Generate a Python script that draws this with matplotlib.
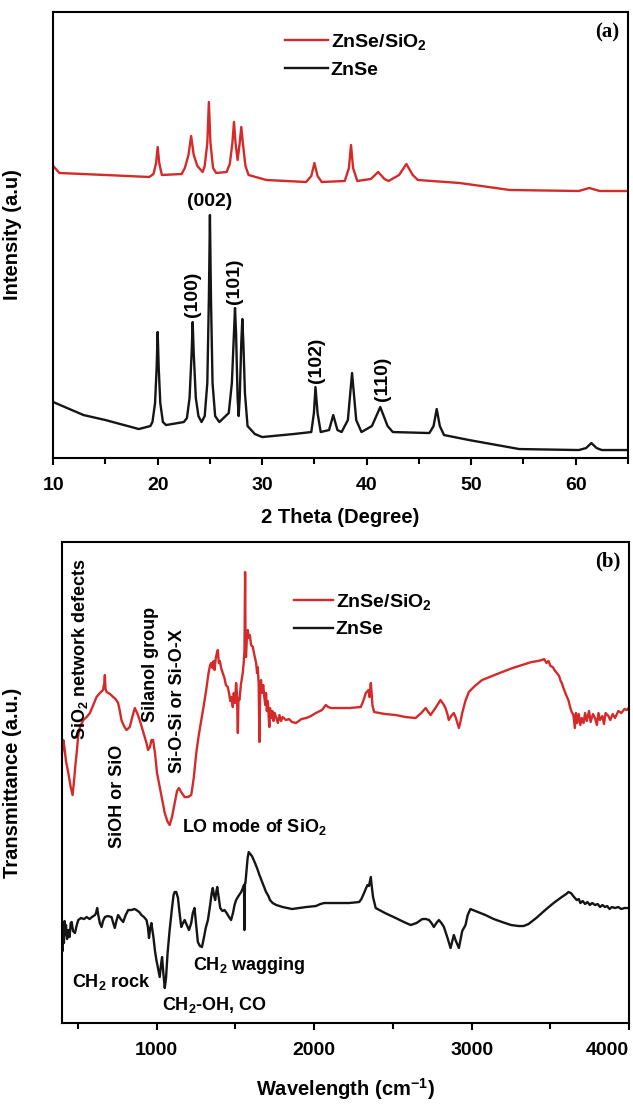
import matplotlib
matplotlib.use("Agg")
import matplotlib.pyplot as plt
from matplotlib.ticker import MultipleLocator, NullLocator

# ---------------------------------------------------------------
# data (y in arbitrary units)
# ---------------------------------------------------------------
# (a) XRD, ZnSe/SiO2 (red, offset)
theta_sio2 = [10.0, 10.6, 15.0, 19.2, 19.6, 19.85, 20.0, 20.15, 20.4, 22.3, 22.6, 22.95,
              23.2, 23.45, 23.8, 24.3, 24.5, 24.75, 24.9, 25.05, 25.3, 25.6, 26.6, 26.9,
              27.15, 27.3, 27.45, 27.65, 27.85, 28.0, 28.15, 28.4, 28.7, 30.4, 34.2, 34.7,
              35.0, 35.3, 35.7, 37.9, 38.3, 38.5, 38.7, 39.1, 40.4, 41.1, 41.7, 42.1,
              43.1, 43.8, 44.4, 44.9, 48.9, 53.7, 60.3, 61.3, 62.3, 65.0]
int_sio2 = [292, 285, 283, 281, 284, 295, 311, 295, 283, 284, 290, 303,
            322, 303, 292, 286, 292, 315, 356, 315, 290, 285, 286, 294,
            315, 336, 315, 298, 315, 331, 315, 292, 283, 278, 276, 282,
            295, 282, 276, 277, 290, 313, 290, 277, 279, 286, 279, 277,
            283, 294, 283, 278, 275, 268, 267, 270, 267, 267]

# (a) XRD, ZnSe (black)
theta_znse = [10.0, 12.9, 15.0, 18.2, 19.3, 19.5, 19.75, 19.9, 20.0, 20.1, 20.25, 20.5,
              20.8, 22.5, 22.8, 23.05, 23.25, 23.35, 23.45, 23.65, 23.9, 24.2, 24.5, 24.75,
              24.9, 25.0, 25.1, 25.25, 25.5, 25.9, 26.8, 27.1, 27.3, 27.4, 27.5, 27.65,
              27.75, 27.85, 28.0, 28.1, 28.2, 28.35, 28.6, 29.3, 30.0, 33.0, 34.7, 34.95,
              35.1, 35.3, 35.6, 36.4, 36.8, 37.2, 37.6, 38.2, 38.6, 39.0, 39.5, 40.5,
              41.3, 42.0, 42.5, 46.0, 46.4, 46.7, 47.0, 47.4, 49.8, 54.6, 60.3, 61.0,
              61.5, 62.0, 62.5, 65.0]
int_znse = [56, 43, 38, 29, 32, 36, 55, 90, 126, 90, 55, 36,
            33, 36, 40, 60, 105, 136, 105, 60, 42, 36, 42, 75,
            160, 243, 160, 75, 42, 36, 45, 75, 125, 150, 125, 60,
            42, 60, 115, 139, 115, 65, 32, 24, 21, 24, 26, 45,
            71, 45, 26, 28, 43, 28, 26, 38, 85, 38, 26, 32,
            51, 32, 26, 25, 32, 49, 32, 23, 18, 9, 8, 10,
            15, 10, 8, 8]

# hkl labels: (label, 2theta, y of text base, rotation)
hkl_labels = ["(002)", "(100)", "(101)", "(102)", "(110)"]
hkl_theta = [25.0, 23.3, 27.35, 35.2, 41.5]
hkl_y = [248, 141, 154, 75, 57]
hkl_rot = [0, 90, 90, 90, 90]

# (b) FTIR, ZnSe/SiO2 (red, offset)
wn_sio2 = [400, 408, 415, 425, 440, 455, 467, 475, 485, 493, 503, 514, 535, 556, 577, 598,
           619, 640, 660, 668, 672, 676, 683, 705, 725, 740, 756, 767, 777, 793, 809, 830,
           846, 862, 877, 893, 910, 925, 936, 946, 958, 968, 978, 990, 1003, 1020, 1035, 1052,
           1068, 1083, 1098, 1115, 1130, 1142, 1160, 1178, 1200, 1220, 1236, 1252, 1268, 1284,
           1300, 1315, 1330, 1340, 1347, 1355, 1362, 1368, 1376, 1383, 1389, 1395, 1402, 1410,
           1420, 1431, 1440, 1452, 1460, 1468, 1476, 1484, 1490, 1497, 1505, 1510, 1516, 1520,
           1526, 1535, 1547, 1553, 1558, 1562, 1565, 1568, 1573, 1579, 1585, 1592, 1600, 1611,
           1618, 1625, 1632, 1638, 1642, 1648, 1653, 1658, 1663, 1670, 1677, 1684, 1690, 1695,
           1700, 1706, 1712, 1716, 1720, 1728, 1735, 1742, 1750, 1758, 1770, 1780, 1790, 1800,
           1821, 1840, 1860, 1885, 1920, 1950, 1980, 2011, 2050, 2074, 2090, 2106, 2160, 2222,
           2296, 2312, 2328, 2345, 2352, 2360, 2366, 2370, 2381, 2450, 2518, 2580, 2644, 2680,
           2708, 2725, 2739, 2770, 2802, 2820, 2834, 2846, 2855, 2870, 2887, 2900, 2919, 2930,
           2940, 2960, 2982, 3020, 3066, 3130, 3193, 3260, 3319, 3380, 3420, 3446, 3460, 3475,
           3488, 3500, 3515, 3530, 3541, 3555, 3565, 3572, 3585, 3595, 3605, 3614, 3625, 3635,
           3646, 3655, 3662, 3670, 3680, 3690, 3699, 3710, 3720, 3730, 3745, 3755, 3770, 3783,
           3795, 3805, 3815, 3830, 3840, 3850, 3868, 3880, 3895, 3910, 3931, 3950, 3970, 3985,
           4000]
tr_sio2 = [270, 283, 276, 262, 250, 236, 228, 240, 258, 270, 288, 296, 303, 306, 310, 318,
           326, 330, 333, 340, 348, 334, 331, 329, 326, 324, 320, 312, 303, 297, 293, 296,
           306, 315, 310, 303, 294, 286, 280, 273, 276, 283, 283, 270, 250, 236, 224, 210,
           202, 198, 206, 220, 232, 235, 230, 226, 226, 228, 245, 270, 288, 303,
           318, 333, 350, 358, 360, 355, 362, 353, 365, 370, 373, 360, 362, 355,
           350, 345, 338, 336, 330, 322, 326, 316, 330, 320, 340, 330, 290, 325,
           323, 338, 350, 360, 372, 451, 372, 366, 385, 393, 385, 388, 378, 376,
           370, 365, 360, 350, 356, 340, 281, 335, 343, 330, 338, 326, 318, 330,
           312, 322, 305, 296, 315, 305, 312, 302, 310, 306, 300, 308, 302, 306,
           303, 304, 301, 300, 304, 305, 307, 310, 313, 318, 316, 315, 315, 315,
           316, 322, 330, 333, 326, 340, 328, 318, 311, 309, 308, 306, 305, 310,
           315, 311, 308, 315, 323, 319, 315, 309, 303, 307, 310, 305, 295, 302,
           310, 322, 331, 337, 343, 347, 351, 355, 358, 361, 362, 363, 364, 360,
           362, 357, 356, 352, 350, 347, 342, 340, 334, 330, 326, 323, 316, 311,
           308, 295, 310, 300, 309, 298, 305, 300, 310, 302, 312, 301, 309, 305,
           298, 310, 303, 307, 299, 310, 307, 303, 309, 305, 312, 310, 314, 313,
           316]

# (b) FTIR, ZnSe (black)
wn_znse = [400, 404, 408, 412, 416, 420, 425, 432, 440, 448, 455, 461, 470, 482, 492, 503,
           520, 540, 556, 575, 590, 609, 616, 623, 630, 640, 651, 660, 672, 690, 714, 725,
           735, 745, 756, 772, 788, 804, 820, 840, 860, 872, 890, 904, 920, 936, 945, 952,
           960, 967, 980, 990, 999, 1010, 1020, 1028, 1035, 1043, 1052, 1060, 1070, 1083,
           1098, 1108, 1115, 1125, 1136, 1146, 1157, 1168, 1178, 1192, 1206, 1214, 1220, 1230,
           1241, 1250, 1262, 1275, 1288, 1300, 1312, 1326, 1340, 1350, 1357, 1364, 1372, 1378,
           1385, 1392, 1404, 1418, 1431, 1445, 1460, 1473, 1485, 1495, 1505, 1520, 1537, 1548,
           1555, 1558, 1561, 1564, 1572, 1578, 1585, 1595, 1605, 1611, 1625, 1640, 1653, 1668,
           1680, 1695, 1710, 1720, 1737, 1760, 1780, 1800, 1830, 1860, 1906, 1950, 2011, 2040,
           2064, 2100, 2160, 2222, 2286, 2300, 2317, 2330, 2339, 2348, 2355, 2360, 2365, 2374,
           2391, 2450, 2518, 2570, 2613, 2650, 2687, 2710, 2729, 2745, 2760, 2776, 2792, 2808,
           2824, 2845, 2866, 2877, 2887, 2900, 2919, 2940, 2961, 2975, 2992, 3040, 3087, 3140,
           3193, 3250, 3298, 3330, 3361, 3410, 3467, 3520, 3572, 3600, 3614, 3630, 3640, 3650,
           3667, 3680, 3690, 3705, 3720, 3735, 3750, 3765, 3783, 3800, 3815, 3830, 3846, 3860,
           3875, 3890, 3910, 3930, 3950, 3970, 3984, 4000]
tr_znse = [93, 72, 95, 80, 102, 88, 98, 84, 93, 86, 100, 101, 92, 90, 97, 103,
           105, 104, 106, 104, 106, 108, 110, 115, 108, 100, 96, 102, 106, 107, 106, 100,
           95, 102, 108, 104, 101, 108, 113, 113, 114, 113, 111, 108, 106, 103, 96, 85,
           95, 100, 86, 72, 63, 54, 46, 58, 66, 50, 35, 45, 70, 93,
           115, 128, 131, 131, 125, 110, 96, 100, 103, 98, 93, 97, 100, 110,
           115, 100, 81, 77, 76, 85, 95, 103, 118, 130, 135, 128, 123, 130,
           136, 128, 115, 112, 113, 110, 106, 103, 110, 118, 123, 127, 131, 135,
           138, 93, 140, 140, 155, 165, 171, 169, 167, 165, 160, 154, 148, 142,
           137, 131, 127, 123, 120, 118, 117, 116, 115, 114, 115, 116, 117, 119,
           120, 120, 120, 120, 121, 124, 130, 135, 138, 137, 142, 146, 138, 126,
           115, 110, 105, 101, 98, 100, 104, 104, 103, 100, 96, 100, 103, 100,
           96, 86, 75, 82, 88, 82, 75, 92, 98, 108, 114, 111, 108, 104,
           101, 98, 97, 97, 99, 105, 113, 120, 126, 129, 131, 130, 128, 126,
           123, 124, 120, 122, 119, 121, 118, 120, 118, 119, 116, 118, 116, 117,
           114, 116, 115, 116, 114, 115, 115, 115]

# band assignments: (text, wavenumber, y, rotation)
band_labels = [r"SiO$_2$ network defects", "SiOH or SiO", "Silanol group",
               "Si-O-Si or Si-O-X", r"LO mode of SiO$_2$", r"CH$_2$ rock",
               r"CH$_2$-OH, CO", r"CH$_2$ wagging"]
band_wn = [514, 754, 963, 1134, 1159, 463, 1033, 1229]
band_y = [283, 175, 301, 250, 196, 41, 18, 58]
band_rot = [90, 90, 90, 90, 0, 0, 0, 0]

RED = "#d42a2a"
BLACK = "#151515"

# ---------------------------------------------------------------
# style
# ---------------------------------------------------------------
plt.rcParams["font.family"] = ["Liberation Sans", "DejaVu Sans"]
plt.rcParams["font.weight"] = "bold"
plt.rcParams["axes.labelweight"] = "bold"
plt.rcParams["mathtext.fontset"] = "custom"
plt.rcParams["mathtext.rm"] = "Liberation Sans:bold"
plt.rcParams["mathtext.bf"] = "Liberation Sans:bold"
plt.rcParams["mathtext.default"] = "bf"
plt.rcParams["axes.linewidth"] = 1.5

fig = plt.figure(figsize=(6.33, 11.08), dpi=100)
ax1 = fig.add_axes([0.084, 0.5866, 0.908, 0.4026])
ax2 = fig.add_axes([0.098, 0.0767, 0.896, 0.4341])


def style_axis(ax, ticks, minor):
    ax.set_xticks(ticks)
    ax.xaxis.set_minor_locator(MultipleLocator(minor))
    ax.yaxis.set_major_locator(NullLocator())
    ax.tick_params(axis="x", which="major", direction="out", length=5, width=1.5,
                   pad=9, labelsize=14)
    ax.tick_params(axis="x", which="minor", direction="out", length=4, width=1.5)
    for lab in ax.get_xticklabels():
        lab.set_fontweight("bold")


# ---------------------------------------------------------------
# (a) XRD
# ---------------------------------------------------------------
ax1.plot(theta_sio2, int_sio2, color=RED, lw=1.7, label=r"ZnSe/SiO$_2$")
ax1.plot(theta_znse, int_znse, color=BLACK, lw=1.7, label="ZnSe")
ax1.set_xlim(10, 65)
ax1.set_ylim(0, 446)
style_axis(ax1, [10, 20, 30, 40, 50, 60], 5)
for lab, t, y, r in zip(hkl_labels, hkl_theta, hkl_y, hkl_rot):
    ax1.text(t, y, lab, rotation=r, ha="center", va="bottom", fontsize=14,
             fontweight="bold")
ax1.set_xlabel("2 Theta (Degree)", fontsize=14.5, fontweight="bold")
ax1.xaxis.set_label_coords(0.5, -0.112)
ax1.set_ylabel("Intensity (a.u)", fontsize=14.5, fontweight="bold")
ax1.yaxis.set_label_coords(-0.055, 0.5)
ax1.legend(loc="upper left", bbox_to_anchor=(0.39, 0.972), frameon=False,
           fontsize=14, handlelength=2.2, handletextpad=0.15, labelspacing=0.45,
           borderaxespad=0)
ax1.text(0.985, 0.955, "(a)", transform=ax1.transAxes, ha="right", va="center",
         fontsize=15, fontweight="bold", family="Liberation Serif")

# ---------------------------------------------------------------
# (b) FTIR
# ---------------------------------------------------------------
ax2.plot(wn_sio2, tr_sio2, color=RED, lw=1.7, label=r"ZnSe/SiO$_2$")
ax2.plot(wn_znse, tr_znse, color=BLACK, lw=1.7, label="ZnSe")
ax2.set_xlim(400, 4000)
ax2.set_ylim(0, 481)
style_axis(ax2, [1000, 2000, 3000, 4000], 500)
ax2.get_xticklabels()[-1].set_horizontalalignment("right")
for lab, w, y, r in zip(band_labels, band_wn, band_y, band_rot):
    if r == 90:
        ax2.text(w, y, lab, rotation=90, ha="center", va="bottom", fontsize=13)
    else:
        ax2.text(w, y, lab, ha="left", va="center", fontsize=13)
ax2.set_xlabel(r"Wavelength (cm$^{-1}$)", fontsize=14.5, fontweight="bold")
ax2.xaxis.set_label_coords(0.5, -0.11)
ax2.set_ylabel("Transmittance (a.u.)", fontsize=14.5, fontweight="bold")
ax2.yaxis.set_label_coords(-0.07, 0.5)
ax2.legend(loc="upper left", bbox_to_anchor=(0.395, 0.912), frameon=False,
           fontsize=14, handlelength=2.0, handletextpad=0.15, labelspacing=0.45,
           borderaxespad=0)
ax2.text(0.985, 0.96, "(b)", transform=ax2.transAxes, ha="right", va="center",
         fontsize=15, fontweight="bold", family="Liberation Serif")

fig.savefig("out.png", dpi=100)
